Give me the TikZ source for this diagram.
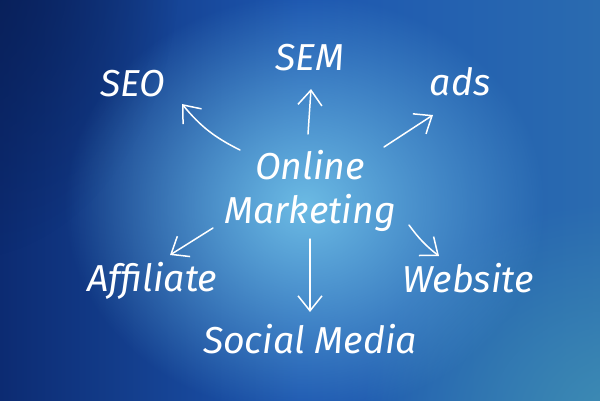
\documentclass[tikz,border=0pt]{standalone}
\usepackage{fontspec}
\setmainfont{Fira Sans}
\usetikzlibrary{arrows.meta,fadings}
\tikzfading[name=glow, inner color=transparent!0, outer color=transparent!100]
\definecolor{bgleft}{HTML}{0C2B72}
\definecolor{bgmid}{HTML}{1D57B0}
\definecolor{bgright}{HTML}{2A6BB0}
\definecolor{glowc}{HTML}{6CBBE4}
\definecolor{tealc}{HTML}{3E8DB4}
\definecolor{navy}{HTML}{081E55}
\tikzset{
  word/.style={text=white, font=\itshape\fontsize{37.5}{40}\selectfont, inner sep=0pt},
  hand/.style={draw=white, line width=1.5pt, line cap=round, line join=round,
    -{Straight Barb[length=15pt,width=24pt,line width=1.5pt]}}
}
\begin{document}
\begin{tikzpicture}[x=1pt,y=-1pt]
\useasboundingbox (0,0) rectangle (600,400);
% background
\shade[left color=bgleft, right color=bgright, middle color=bgmid] (0,0) rectangle (600,400);
\fill[navy, path fading=glow] (-40,-40) ellipse [x radius=220, y radius=300];
\fill[tealc, path fading=glow] (620,420) ellipse [x radius=260, y radius=220];
\fill[glowc, path fading=glow] (305,205) ellipse [x radius=240, y radius=210];
% words
\node[word] (online) at (310,165) {Online};
\node[word] (mkt) at (310,213) {Marketing};
\node[word] (seo) at (133,84) {SEO};
\node[word] (sem) at (310,58) {SEM};
\node[word] (ads) at (460,82) {ads};
\node[word] (aff) at (152,281) {Affiliate};
\node[word] (web) at (468,278) {Website};
\node[word] (soc) at (310,339) {Social Media};
% arrow ends
\coordinate (tseo) at (240,150);
\coordinate (hseo) at (182,104);
\coordinate (tsem) at (308,134);
\coordinate (hsem) at (311,89);
\coordinate (tads) at (384,147);
\coordinate (hads) at (433,115);
\coordinate (taff) at (213,228);
\coordinate (haff) at (170,255);
\coordinate (tweb) at (409,225);
\coordinate (hweb) at (439,256);
\coordinate (tsoc) at (310,239);
\coordinate (hsoc) at (310,312);
\draw[hand] (tseo) to[bend left=12] (hseo);
\draw[hand] (tsem) -- (hsem);
\draw[hand] (tads) -- (hads);
\draw[hand] (taff) -- (haff);
\draw[hand] (tweb) to[bend right=8] (hweb);
\draw[hand] (tsoc) -- (hsoc);
\end{tikzpicture}
\end{document}
